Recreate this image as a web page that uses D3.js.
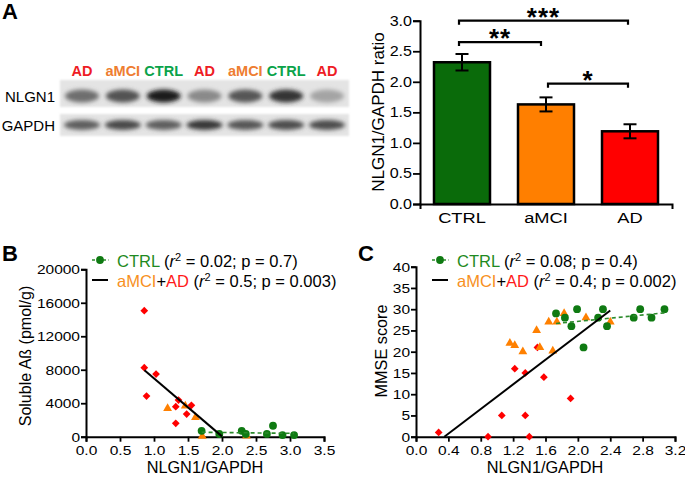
<!DOCTYPE html>
<html><head><meta charset="utf-8">
<script src="https://cdn.jsdelivr.net/npm/d3@7"></script>
<style>
body{margin:0;background:#fff;}
svg{display:block;font-family:"Liberation Sans",Arial,Helvetica,sans-serif;}
</style></head><body>
<svg id="fig" width="685" height="478"></svg>
<script>
// ---------------- DATA ----------------
const laneLabels = ["AD","aMCI","CTRL","AD","aMCI","CTRL","AD"];
const nlgn1Intensity = [0.55,0.68,0.92,0.42,0.66,0.82,0.30];
const gapdhIntensity = [0.62,0.72,0.62,0.80,0.66,0.70,0.70];

const barCategories = ["CTRL","aMCI","AD"];
const barMeans = [2.32,1.63,1.19];
const barSEM = [0.135,0.115,0.115];
const barTicks = [0,0.5,1.0,1.5,2.0,2.5,3.0];
const sigFrom = ["CTRL","CTRL","aMCI"];
const sigTo = ["AD","aMCI","AD"];
const sigLabels = ["***","**","*"];
const sigLevel = [3.0,2.65,1.97];

// Panel B : NLGN1/GAPDH vs soluble Abeta
const ctrlB_x = [1.70,1.96,2.29,2.35,2.66,2.75,2.89,3.06];
const ctrlB_y = [700,320,700,320,330,1310,200,200];
const amciB_x = [1.20,1.46,1.61,1.71,2.36];
const amciB_y = [3390,3670,2310,60,80];
const adB_x = [0.857,0.857,1.03,0.89,1.36,1.32,1.55,1.48,1.32];
const adB_y = [15050,8240,7490,4860,4380,3590,3750,2710,1600];
const fitCtrlB = {intercept:690, slope:-95, from:1.70, to:3.06};
const fitAllB = {intercept:13900, slope:-6930, from:0.86, to:2.0};
const xTicksB = [0,0.5,1.0,1.5,2.0,2.5,3.0,3.5];
const yTicksB = [0,4000,8000,12000,16000,20000];
const legendB = [["0.02","0.7"],["0.5","0.003"]];

// Panel C : NLGN1/GAPDH vs MMSE
const ctrlC_x = [1.73,1.84,1.92,1.99,2.07,2.25,2.31,2.36,2.69,2.77,2.91,3.07];
const ctrlC_y = [29,28,26,30,21,28,30,26,28,30,28,30];
const amciC_x = [1.16,1.22,1.32,1.49,1.53,1.64,1.74,1.83,2.10,2.40,1.69];
const amciC_y = [22,21.5,20,25,21,27,27,29,28,27,20.2];
const adC_x = [0.28,0.89,1.06,1.22,1.35,1.35,1.40,1.50,1.58,1.91];
const adC_y = [1,0,5,16,15,5,0,21,14,9];
const fitCtrlC = {intercept:23.4, slope:1.87, from:1.73, to:3.07};
const fitAllC = {intercept:-5.1, slope:14.5, from:0.35, to:2.4};
const xTicksC = [0,0.4,0.8,1.2,1.6,2.0,2.4,2.8,3.2];
const yTicksC = [0,5,10,15,20,25,30,35,40];
const legendC = [["0.08","0.4"],["0.4","0.002"]];

// ---------------- STYLE ----------------
const col = {
  ctrlBar:"#0a6b0a", amciBar:"#ff7f00", adBar:"#ff0000",
  ctrlPt:"#0f7a12", amciPt:"#ff8000", adPt:"#ff0000",
  ctrlTxt:"#1f8a22", amciTxt:"#f7901e", adTxt:"#ff1a1a",
  laneAD:"#ee1c24", laneMCI:"#ee7d31", laneCTRL:"#0aa34a"
};
const barFill = {CTRL:col.ctrlBar, aMCI:col.amciBar, AD:col.adBar};
const laneColor = {AD:col.laneAD, aMCI:col.laneMCI, CTRL:col.laneCTRL};
const TICK_STRETCH = 1.15;

const svg = d3.select("#fig");
const defs = svg.append("defs");
defs.append("filter").attr("id","blur").attr("x","-50%").attr("y","-80%").attr("width","200%").attr("height","260%")
  .append("feGaussianBlur").attr("stdDeviation",2.2);
defs.append("filter").attr("id","blur2").attr("x","-10%").attr("y","-30%").attr("width","120%").attr("height","160%")
  .append("feGaussianBlur").attr("stdDeviation",1.2);

function stretchTicks(g, s){
  g.selectAll(".tick text").each(function(){
    const t = d3.select(this);
    const x = +t.attr("x") || 0;
    t.attr("x", x / s).attr("transform", `scale(${s},1)`);
  });
}
function styleAxis(g, fs){
  g.select(".domain").attr("stroke","#000").attr("stroke-width",2);
  g.selectAll(".tick line").attr("stroke","#000").attr("stroke-width",1.8);
  g.selectAll(".tick text").attr("fill","#000").attr("font-size",fs)
    .attr("font-family",'"Liberation Sans",Arial,sans-serif');
}

// ---------------- PANEL LABELS ----------------
[["A",2,19],["B",2,261],["C",358,261]].forEach(([t,x,y])=>{
  svg.append("text").attr("x",x).attr("y",y).attr("font-size",22).attr("font-weight","bold").text(t);
});

// ---------------- BLOT ----------------
const lane = d3.scalePoint().domain(d3.range(laneLabels.length)).range([82,327]);
const blot = svg.append("g");
blot.append("rect").attr("x",60).attr("y",80).attr("width",289).attr("height",27).attr("fill","#e4e4e4").attr("filter","url(#blur2)");
blot.append("rect").attr("x",60).attr("y",114).attr("width",289).attr("height",22).attr("fill","#e4e4e4").attr("filter","url(#blur2)");
const shade = d3.interpolateRgb("#e4e4e4","#0e0e0e");
blot.selectAll(".nb").data(nlgn1Intensity).join("ellipse")
  .attr("cx",(d,i)=>lane(i)).attr("cy",96).attr("rx",17).attr("ry",6.5)
  .attr("fill",d=>shade(d)).attr("filter","url(#blur)");
blot.selectAll(".gb").data(gapdhIntensity).join("ellipse")
  .attr("class","gb")
  .attr("cx",(d,i)=>lane(i)).attr("cy",125).attr("rx",18).attr("ry",5)
  .attr("fill",d=>shade(d)).attr("filter","url(#blur)");
blot.selectAll(".ll").data(laneLabels).join("text")
  .attr("x",(d,i)=>lane(i)).attr("y",76).attr("text-anchor","middle")
  .attr("font-size",14.5).attr("font-weight","bold").attr("fill",d=>laneColor[d]).text(d=>d);
blot.append("text").attr("x",55).attr("y",102).attr("text-anchor","end").attr("font-size",15).text("NLGN1");
blot.append("text").attr("x",55).attr("y",131).attr("text-anchor","end").attr("font-size",15).text("GAPDH");

// ---------------- BAR CHART ----------------
const xA = d3.scaleBand().domain(barCategories).range([420,672]).paddingInner(1/3).paddingOuter(1/6);
const yA = d3.scaleLinear().domain([0,3]).range([204,20.7]);
const gA = svg.append("g");
gA.selectAll("rect.bar").data(barCategories).join("rect").attr("class","bar")
  .attr("x",d=>xA(d)).attr("width",xA.bandwidth())
  .attr("y",(d,i)=>yA(barMeans[i])).attr("height",(d,i)=>yA(0)-yA(barMeans[i]))
  .attr("fill",d=>barFill[d]).attr("stroke","#000").attr("stroke-width",2.5);
barCategories.forEach((c,i)=>{
  const cx = xA(c)+xA.bandwidth()/2;
  const top = yA(barMeans[i]+barSEM[i]), bot = yA(barMeans[i]-barSEM[i]);
  gA.append("line").attr("x1",cx).attr("x2",cx).attr("y1",top).attr("y2",bot).attr("stroke","#000").attr("stroke-width",2);
  [top,bot].forEach(y=>gA.append("line").attr("x1",cx-6.5).attr("x2",cx+6.5).attr("y1",y).attr("y2",y).attr("stroke","#000").attr("stroke-width",2));
});
const axYA = gA.append("g").attr("transform","translate(420,0)")
  .call(d3.axisLeft(yA).tickValues(barTicks).tickFormat(d3.format(".1f")).tickSize(7).tickPadding(1));
styleAxis(axYA,14); stretchTicks(axYA,TICK_STRETCH);
const axXA = gA.append("g").attr("transform","translate(0,204)")
  .call(d3.axisBottom(xA).tickSize(0).tickSizeOuter(5).tickPadding(8));
styleAxis(axXA,15.5); stretchTicks(axXA,1.18);
axXA.selectAll(".tick text").attr("dy","0.71em");
gA.append("text").attr("transform","translate(384,112) rotate(-90)").attr("text-anchor","middle")
  .attr("font-size",17).text("NLGN1/GAPDH ratio");
// significance brackets
sigLabels.forEach((lab,i)=>{
  const off1 = sigFrom[i]==="CTRL" ? -3 : 2;
  const off2 = sigTo[i]==="aMCI" ? -5 : -2;
  const x1 = xA(sigFrom[i])+xA.bandwidth()/2+off1;
  const x2 = xA(sigTo[i])+xA.bandwidth()/2+off2;
  const y = yA(sigLevel[i]);
  gA.append("path").attr("d",`M${x1},${y+4}V${y}H${x2}V${y+4}`).attr("fill","none").attr("stroke","#000").attr("stroke-width",2.2);
  gA.append("text").attr("x",(x1+x2)/2).attr("y",y+5).attr("text-anchor","middle")
    .attr("font-size",26).attr("font-weight","bold").attr("letter-spacing",1).text(lab);
});

// ---------------- SCATTER helper ----------------
function pts(xs,ys){ return xs.map((x,i)=>({x, y:ys[i]})); }
function scatter(g, x, y, ctrl, amci, ad, fitCtrl, fitAll){
  g.selectAll(".ad").data(ad).join("path").attr("class","ad")
    .attr("transform",d=>`translate(${x(d.x)},${y(d.y)}) rotate(45)`)
    .attr("d",d3.symbol(d3.symbolSquare,30)).attr("fill",col.adPt);
  g.selectAll(".amci").data(amci).join("path").attr("class","amci")
    .attr("transform",d=>`translate(${x(d.x)},${y(d.y)})`)
    .attr("d",d3.symbol(d3.symbolTriangle,34)).attr("fill",col.amciPt);
  g.selectAll(".ctrl").data(ctrl).join("circle").attr("class","ctrl")
    .attr("cx",d=>x(d.x)).attr("cy",d=>y(d.y)).attr("r",3.9).attr("fill",col.ctrlPt);
  const line = d3.line().x(d=>x(d[0])).y(d=>y(d[1]));
  const fl = f => [[f.from, f.intercept+f.slope*f.from],[f.to, f.intercept+f.slope*f.to]];
  g.append("path").attr("d",line(fl(fitCtrl))).attr("stroke","#2b8a2b").attr("stroke-width",1.6)
    .attr("stroke-dasharray","4,3").attr("fill","none");
  g.append("path").attr("d",line(fl(fitAll))).attr("stroke","#000").attr("stroke-width",2).attr("fill","none");
}
function legend(g, mx, tx, stats){
  // line 1
  g.append("line").attr("x1",mx-8).attr("x2",mx+9).attr("y1",260).attr("y2",260)
    .attr("stroke","#2b8a2b").attr("stroke-width",1.6).attr("stroke-dasharray","3,2.5");
  g.append("circle").attr("cx",mx).attr("cy",260).attr("r",3.9).attr("fill",col.ctrlPt);
  g.append("line").attr("x1",mx-8).attr("x2",mx+8).attr("y1",280).attr("y2",280).attr("stroke","#000").attr("stroke-width",2);
  const rows = [
    [{t:"CTRL",c:col.ctrlTxt}],
    [{t:"aMCI",c:col.amciTxt},{t:"+",c:"#000"},{t:"AD",c:col.adTxt}]
  ];
  rows.forEach((r,i)=>{
    const t = g.append("text").attr("x",tx).attr("y",266.5+i*20).attr("font-size",16.5);
    r.forEach(p=>t.append("tspan").attr("fill",p.c).text(p.t));
    t.append("tspan").text(" (");
    t.append("tspan").attr("font-style","italic").text("r");
    t.append("tspan").attr("font-size",11).attr("dy",-6).text("2");
    t.append("tspan").attr("dy",6).text(` = ${stats[i][0]}; p = ${stats[i][1]})`);
  });
}

// ---------------- PANEL B ----------------
const xB = d3.scaleLinear().domain([0,3.5]).range([86,324]);
const yB = d3.scaleLinear().domain([0,20000]).range([436.7,269.3]);
const gB = svg.append("g");
const axXB = gB.append("g").attr("transform","translate(0,436.7)")
  .call(d3.axisBottom(xB).tickValues(xTicksB).tickFormat(d3.format(".1f")).tickSize(5).tickSizeOuter(5).tickPadding(4));
styleAxis(axXB,13.5); stretchTicks(axXB,TICK_STRETCH);
const axYB = gB.append("g").attr("transform","translate(86,0)")
  .call(d3.axisLeft(yB).tickValues(yTicksB).tickFormat(d3.format("d")).tickSize(5).tickSizeOuter(5).tickPadding(1));
styleAxis(axYB,13.5); stretchTicks(axYB,TICK_STRETCH);
scatter(gB, xB, yB, pts(ctrlB_x,ctrlB_y), pts(amciB_x,amciB_y), pts(adB_x,adB_y), fitCtrlB, fitAllB);
gB.append("text").attr("x",205).attr("y",473.3).attr("text-anchor","middle").attr("font-size",16.3).text("NLGN1/GAPDH");
gB.append("text").attr("transform","translate(31,356) rotate(-90)").attr("text-anchor","middle").attr("font-size",16).text("Soluble Aß (pmol/g)");
legend(gB, 100, 117, legendB);

// ---------------- PANEL C ----------------
const xC = d3.scaleLinear().domain([0,3.2]).range([416,675]);
const yC = d3.scaleLinear().domain([0,40]).range([436.7,266.7]);
const gC = svg.append("g");
const axXC = gC.append("g").attr("transform","translate(0,436.7)")
  .call(d3.axisBottom(xC).tickValues(xTicksC).tickFormat(d3.format(".1f")).tickSize(5).tickSizeOuter(5).tickPadding(4));
styleAxis(axXC,13.5); stretchTicks(axXC,TICK_STRETCH);
const axYC = gC.append("g").attr("transform","translate(416,0)")
  .call(d3.axisLeft(yC).tickValues(yTicksC).tickFormat(d3.format("d")).tickSize(5).tickSizeOuter(5).tickPadding(1));
styleAxis(axYC,13.5); stretchTicks(axYC,TICK_STRETCH);
scatter(gC, xC, yC, pts(ctrlC_x,ctrlC_y), pts(amciC_x,amciC_y), pts(adC_x,adC_y), fitCtrlC, fitAllC);
gC.append("text").attr("x",545).attr("y",473.3).attr("text-anchor","middle").attr("font-size",16.3).text("NLGN1/GAPDH");
gC.append("text").attr("transform","translate(387,351) rotate(-90)").attr("text-anchor","middle").attr("font-size",16.3).text("MMSE score");
legend(gC, 440, 457, legendC);
</script>
</body></html>
